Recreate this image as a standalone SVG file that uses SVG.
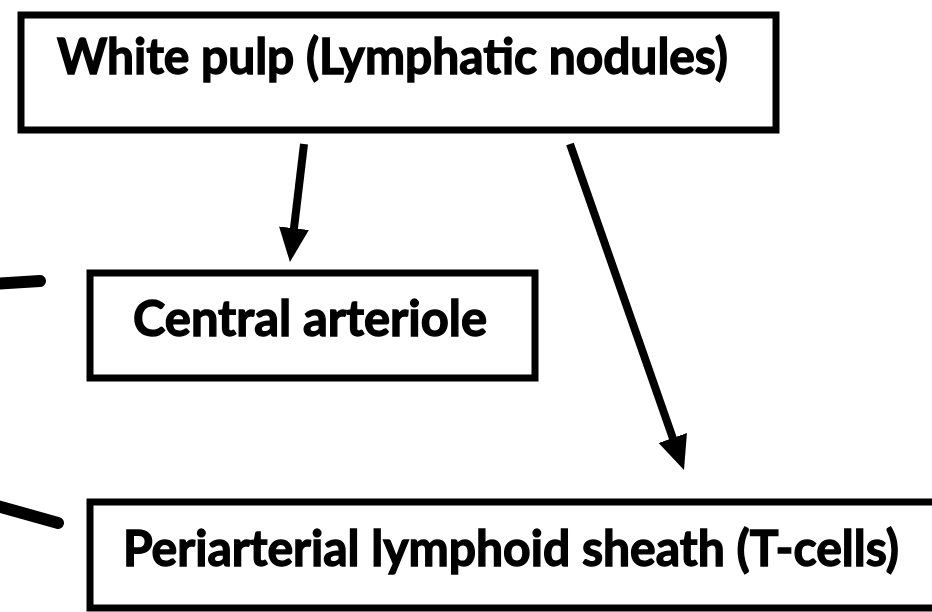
<svg xmlns="http://www.w3.org/2000/svg" width="932" height="612" viewBox="0 0 932 612">
<style>
.box{fill:#fff;stroke:#000;stroke-width:7}
.lbl{font-family:Lato,"Liberation Sans",sans-serif;font-weight:700;font-size:50px;fill:#000;stroke:#000;stroke-width:1.4}
.arr{stroke:#000;stroke-width:8;fill:none;marker-end:url(#ah)}
.stub{stroke:#000;stroke-width:12;stroke-linecap:round;fill:none}
</style>
<defs>
<marker id="ah" markerUnits="userSpaceOnUse" markerWidth="40" markerHeight="34" refX="4" refY="15" orient="auto">
<path d="M0,0 L34,15 L0,30 z" fill="#000"/>
</marker>
</defs>
<rect width="932" height="612" fill="#fff"/>
<g id="connectors">
<line class="arr" x1="304" y1="144" x2="293.5" y2="232.2"/>
<line class="arr" x1="570" y1="144" x2="674.1" y2="441.7"/>
<line class="stub" x1="-6" y1="284" x2="40" y2="281"/>
<line class="stub" x1="-6" y1="505" x2="58" y2="523"/>
</g>
<g id="white-pulp">
<rect class="box" x="21" y="15" width="755" height="115"/>
<text class="lbl" x="57" y="74" textLength="671" lengthAdjust="spacingAndGlyphs">White pulp (Lymphatic nodules)</text>
</g>
<g id="central-arteriole">
<rect class="box" x="90" y="273" width="445" height="105"/>
<text class="lbl" x="133" y="336" textLength="354" lengthAdjust="spacingAndGlyphs">Central arteriole</text>
</g>
<g id="pals">
<rect class="box" x="90" y="502" width="900" height="106"/>
<text class="lbl" x="123" y="566" textLength="776" lengthAdjust="spacingAndGlyphs">Periarterial lymphoid sheath (T-cells)</text>
</g>
</svg>
